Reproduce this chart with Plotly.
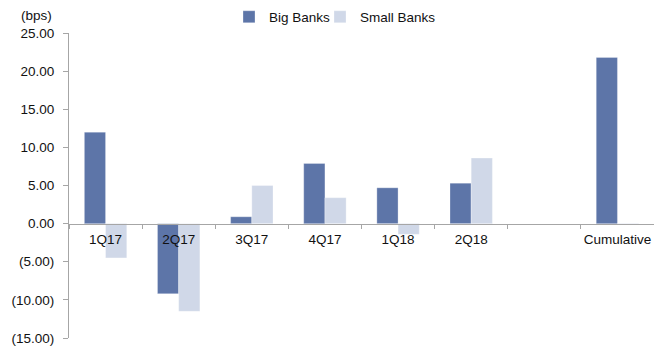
import plotly.graph_objects as go

# Quarterly change in loan yields, in basis points
categories = ["1Q17", "2Q17", "3Q17", "4Q17", "1Q18", "2Q18", " ", "Cumulative"]
big_banks = [12.0, -9.2, 0.9, 7.9, 4.7, 5.3, None, 21.8]
small_banks = [-4.5, -11.5, 5.0, 3.4, -1.4, 8.6, None, -0.1]
y_ticks = [-15, -10, -5, 0, 5, 10, 15, 20, 25]


def acct(v):
    return f"({abs(v):.2f})" if v < 0 else f"{v:.2f}"


FONT = "Liberation Sans, Arial, sans-serif"
AXIS_GREY = "#A6A6A6"
PLOT_W = 654 - 69

fig = go.Figure()
fig.add_trace(go.Bar(
    name="Big Banks", x=categories, y=big_banks, legend="legend",
    marker=dict(color="#5D75A8", line=dict(color="#FFFFFF", width=0.3)),
))
fig.add_trace(go.Bar(
    name="Small Banks", x=categories, y=small_banks, legend="legend2",
    marker=dict(color="#D0D8E8", line=dict(color="#FFFFFF", width=0.3)),
))

legend_style = dict(
    orientation="h", xanchor="left",
    y=1 + (33 - 17) / 305, yanchor="middle",
    font=dict(size=13.5), itemwidth=30,
    bgcolor="rgba(0,0,0,0)",
)

y_min, y_max = -15, 25
fig.update_layout(
    width=654, height=352,
    margin=dict(l=69, r=0, t=33, b=14),
    paper_bgcolor="white", plot_bgcolor="white",
    font=dict(family=FONT, size=13.5, color="#111111"),
    barmode="group", bargap=0.42, bargroupgap=0,
    showlegend=True,
    legend=dict(x=(229 - 69) / PLOT_W, **legend_style),
    legend2=dict(x=(320 - 69) / PLOT_W, **legend_style),
    xaxis=dict(
        type="category", anchor="free",
        position=(0 - y_min) / (y_max - y_min),
        showline=True, linecolor=AXIS_GREY, linewidth=1.2,
        ticks="outside", tickson="boundaries", ticklen=4,
        tickcolor=AXIS_GREY, tickwidth=1, tickangle=0,
        ticklabelstandoff=3,
        showgrid=False, zeroline=False,
        tickfont=dict(size=13.5),
    ),
    yaxis=dict(
        range=[y_min, y_max], domain=[0, 1],
        tickvals=y_ticks, ticktext=[acct(v) for v in y_ticks],
        showline=True, linecolor=AXIS_GREY, linewidth=1,
        ticks="outside", ticklen=5, tickcolor=AXIS_GREY,
        ticklabelstandoff=6,
        showgrid=False, zeroline=False,
        tickfont=dict(size=13.5),
    ),
    annotations=[dict(
        text="(bps)", xref="paper", yref="paper",
        x=-15 / PLOT_W, y=1 + (33 - 15) / 305,
        xanchor="right", yanchor="middle", showarrow=False,
        font=dict(size=13.5),
    )],
)

fig.write_html("out.html")
